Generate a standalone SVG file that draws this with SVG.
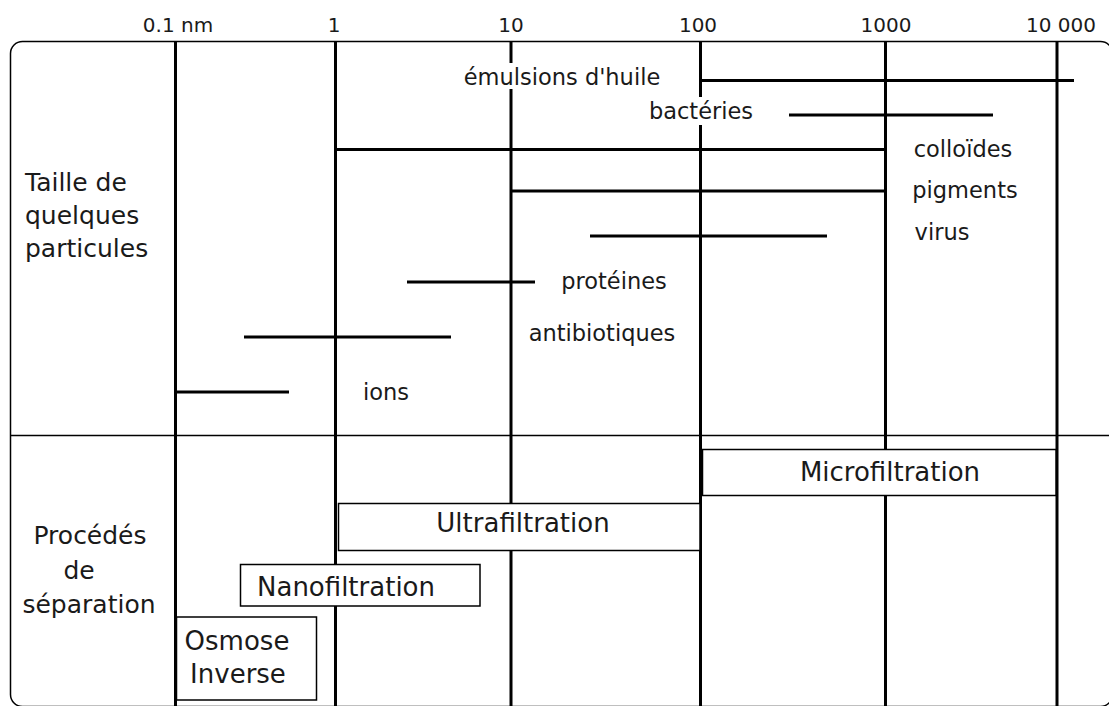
<svg xmlns="http://www.w3.org/2000/svg" width="1109" height="706" viewBox="0 0 1109 706">
  <style>
    text { font-family: "DejaVu Sans", "Liberation Sans", sans-serif; fill: #1a1a1a; }
    .scale { font-size: 20px; text-anchor: middle; }
    .item { font-size: 22.5px; text-anchor: middle; }
    .side { font-size: 25px; }
    .proc { font-size: 26px; text-anchor: middle; }
    .grid { stroke: #000; stroke-width: 3; fill: none; }
    .bar { stroke: #000; stroke-width: 3; fill: none; }
    .thin { stroke: #000; stroke-width: 1.5; fill: none; }
    .box { stroke: #000; stroke-width: 1.5; fill: #fff; }
  </style>

  <rect width="1109" height="706" fill="#fff"/>

  <!-- outer frame and separator between the two sections -->
  <g id="frame">
    <rect class="thin" x="10.5" y="41.5" width="1102" height="665" rx="12" ry="12"/>
    <line class="thin" x1="10" y1="435.5" x2="1109" y2="435.5"/>
  </g>

  <!-- logarithmic size scale -->
  <g id="scale-labels">
    <text class="scale" x="178" y="32">0.1 nm</text>
    <text class="scale" x="334" y="32">1</text>
    <text class="scale" x="511" y="32">10</text>
    <text class="scale" x="698" y="32">100</text>
    <text class="scale" x="886" y="32">1000</text>
    <text class="scale" x="1061" y="32">10 000</text>
  </g>

  <g id="connectors">
    <!-- decade lines -->
    <line class="grid" x1="175.5" y1="41" x2="175.5" y2="706"/>
    <line class="grid" x1="335.5" y1="41" x2="335.5" y2="706"/>
    <line class="grid" x1="511" y1="41" x2="511" y2="63"/>
    <line class="grid" x1="511" y1="89" x2="511" y2="706"/>
    <line class="grid" x1="700.5" y1="41" x2="700.5" y2="97"/>
    <line class="grid" x1="700.5" y1="125" x2="700.5" y2="706"/>
    <line class="grid" x1="885.5" y1="41" x2="885.5" y2="706"/>
    <line class="grid" x1="1057" y1="41" x2="1057" y2="706"/>

    <!-- particle size ranges -->
    <line class="bar" x1="700" y1="80.5" x2="1074" y2="80.5"/>
    <line class="bar" x1="789" y1="115" x2="993" y2="115"/>
    <line class="bar" x1="335" y1="149.5" x2="885" y2="149.5"/>
    <line class="bar" x1="511" y1="191" x2="885" y2="191"/>
    <line class="bar" x1="590" y1="236" x2="827" y2="236"/>
    <line class="bar" x1="407" y1="282" x2="535" y2="282"/>
    <line class="bar" x1="244" y1="337" x2="451" y2="337"/>
    <line class="bar" x1="175" y1="392" x2="289" y2="392"/>
  </g>

  <g id="section-particles">
    <text class="side" x="25" y="191">Taille de</text>
    <text class="side" x="25" y="224">quelques</text>
    <text class="side" x="25" y="257">particules</text>
  </g>

  <g id="emulsions"><text class="item" x="562" y="85">émulsions d'huile</text></g>
  <g id="bacteries"><text class="item" x="701" y="119">bactéries</text></g>
  <g id="colloides"><text class="item" x="963" y="157">colloïdes</text></g>
  <g id="pigments"><text class="item" x="965" y="198">pigments</text></g>
  <g id="virus"><text class="item" x="942" y="240">virus</text></g>
  <g id="proteines"><text class="item" x="614" y="289">protéines</text></g>
  <g id="antibiotiques"><text class="item" x="602" y="341">antibiotiques</text></g>
  <g id="ions"><text class="item" x="386" y="400">ions</text></g>

  <g id="section-processes">
    <text class="side" x="90" y="544" text-anchor="middle">Procédés</text>
    <text class="side" x="79" y="579" text-anchor="middle">de</text>
    <text class="side" x="89" y="613" text-anchor="middle">séparation</text>
  </g>

  <!-- separation processes -->
  <g id="microfiltration">
    <rect class="box" x="702.5" y="449.5" width="353.5" height="46"/>
    <text class="proc" x="890" y="481">Microfiltration</text>
  </g>
  <g id="ultrafiltration">
    <rect class="box" x="338.5" y="503.5" width="361.5" height="47"/>
    <text class="proc" x="523" y="532">Ultrafiltration</text>
  </g>
  <g id="nanofiltration">
    <rect class="box" x="240.5" y="564.5" width="239.5" height="41.5"/>
    <text class="proc" x="346" y="596">Nanofiltration</text>
  </g>
  <g id="osmose-inverse">
    <rect class="box" x="176.5" y="617" width="140" height="83"/>
    <text class="proc" x="237" y="650">Osmose</text>
    <text class="proc" x="238" y="683">Inverse</text>
  </g>
</svg>
